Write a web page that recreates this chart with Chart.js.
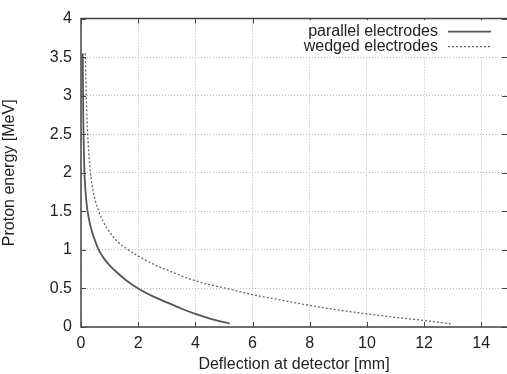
<!DOCTYPE html>
<html>
<head>
<meta charset="utf-8">
<script src="https://cdn.jsdelivr.net/npm/chart.js@4"></script>
<style>
  html, body { margin: 0; padding: 0; background: #fff; }
  #wrap { width: 507px; height: 374px; position: relative; }
</style>
</head>
<body>
<div id="wrap"><canvas id="chart"></canvas></div>
<script>
// parallel electrodes: deflection [mm] vs proton energy [MeV]
const parallelX = [0.06, 0.07, 0.08, 0.1, 0.12, 0.15, 0.19, 0.24, 0.3, 0.39, 0.5, 0.62, 0.8, 1.0, 1.25, 1.6, 2.0, 2.5, 3.0, 3.5, 4.0, 4.6, 5.2];
const parallelE = [3.55, 3.1, 2.7, 2.3, 2.0, 1.8, 1.62, 1.48, 1.36, 1.23, 1.11, 1.0, 0.89, 0.8, 0.71, 0.6, 0.5, 0.4, 0.32, 0.24, 0.17, 0.1, 0.045];

// wedged electrodes
const wedgedX = [0.15, 0.17, 0.2, 0.25, 0.33, 0.45, 0.62, 0.8, 1.0, 1.3, 1.66, 2.0, 2.5, 3.0, 4.0, 5.2, 6.0, 7.0, 8.0, 9.0, 10.0, 11.0, 12.0, 12.95];
const wedgedE = [3.55, 3.2, 2.8, 2.4, 2.0, 1.72, 1.5, 1.35, 1.23, 1.1, 1.0, 0.92, 0.82, 0.74, 0.6, 0.49, 0.42, 0.35, 0.28, 0.22, 0.17, 0.125, 0.085, 0.04];

const seriesLabels = ["parallel electrodes", "wedged electrodes"];
const xTicks = [0, 2, 4, 6, 8, 10, 12, 14];
const yTicks = [0, 0.5, 1, 1.5, 2, 2.5, 3, 3.5, 4];

const toPoints = (xs, ys) => xs.map((v, i) => ({ x: v, y: ys[i] }));
const FONT = "'Liberation Sans', Arial, sans-serif";

const framePlugin = {
  id: "frame",
  afterDatasetsDraw(chart) {
    const { ctx, chartArea: a, scales } = chart;
    const x = scales.x, y = scales.y;
    ctx.save();
    ctx.strokeStyle = "#444";
    ctx.lineWidth = 1.5;
    ctx.beginPath();
    ctx.moveTo(a.right, a.top);
    ctx.lineTo(a.left, a.top);
    ctx.lineTo(a.left, a.bottom);
    ctx.lineTo(a.right, a.bottom);
    ctx.stroke();

    // gnuplot style inward ticks
    ctx.lineWidth = 1;
    ctx.beginPath();
    xTicks.forEach(v => {
      const p = Math.round(x.getPixelForValue(v)) + 0.5;
      ctx.moveTo(p, a.bottom); ctx.lineTo(p, a.bottom - 5);
      ctx.moveTo(p, a.top); ctx.lineTo(p, a.top + 5);
    });
    yTicks.forEach(v => {
      const p = Math.round(y.getPixelForValue(v)) + 0.5;
      ctx.moveTo(a.left, p); ctx.lineTo(a.left + 5, p);
      ctx.moveTo(a.right, p); ctx.lineTo(a.right - 5, p);
    });
    ctx.stroke();

    // key, top right, samples to the right of the text
    ctx.fillStyle = "#fff";
    ctx.fillRect(298, a.top + 1.5, a.right - 298, 36);
    ctx.font = "16px " + FONT;
    ctx.textAlign = "right";
    ctx.textBaseline = "middle";
    chart.data.datasets.forEach((ds, i) => {
      const ly = a.top + 13 + i * 15;
      ctx.fillStyle = "#222";
      ctx.fillText(ds.label, 438, ly);
      ctx.strokeStyle = ds.borderColor;
      ctx.lineWidth = ds.borderWidth;
      ctx.setLineDash(ds.borderDash || []);
      ctx.beginPath();
      ctx.moveTo(448, ly);
      ctx.lineTo(491, ly);
      ctx.stroke();
    });
    ctx.restore();
  }
};

new Chart(document.getElementById("chart"), {
  type: "scatter",
  data: {
    datasets: [
      {
        label: seriesLabels[0],
        data: toPoints(parallelX, parallelE),
        showLine: true,
        borderColor: "#555",
        borderWidth: 1.8,
        pointRadius: 0,
        cubicInterpolationMode: "monotone",
      },
      {
        label: seriesLabels[1],
        data: toPoints(wedgedX, wedgedE),
        showLine: true,
        borderColor: "#666",
        borderWidth: 1.3,
        borderDash: [2, 2],
        pointRadius: 0,
        cubicInterpolationMode: "monotone",
      },
    ],
  },
  options: {
    responsive: true,
    maintainAspectRatio: false,
    animation: false,
    layout: { padding: { top: 15, right: 0, left: 0, bottom: 0 } },
    plugins: {
      legend: { display: false },
      tooltip: { enabled: false },
    },
    scales: {
      x: {
        type: "linear",
        min: 0,
        max: 14.9,
        afterBuildTicks: s => { s.ticks = xTicks.map(v => ({ value: v })); },
        afterFit: s => { s.height = 47; },
        border: { display: false, dash: [1, 2] },
        grid: { color: "#bbb", lineWidth: 1, drawTicks: false },
        ticks: {
          color: "#222",
          font: { family: FONT, size: 16 },
          padding: 7,
          maxRotation: 0,
          callback: v => String(v),
        },
        title: {
          display: true,
          text: "Deflection at detector [mm]",
          color: "#222",
          font: { family: FONT, size: 16 },
          padding: { top: 1, bottom: 0 },
        },
      },
      y: {
        type: "linear",
        min: 0,
        max: 4,
        afterBuildTicks: s => { s.ticks = yTicks.map(v => ({ value: v })); },
        afterFit: s => { s.width = 81; },
        border: { display: false, dash: [1, 2] },
        grid: { color: "#bbb", lineWidth: 1, drawTicks: false },
        ticks: {
          color: "#222",
          font: { family: FONT, size: 16 },
          padding: 9,
          callback: v => String(v),
        },
        title: {
          display: true,
          text: "Proton energy [MeV]",
          color: "#222",
          font: { family: FONT, size: 16 },
          padding: { top: 0, bottom: 2 },
        },
      },
    },
  },
  plugins: [framePlugin],
});
</script>
</body>
</html>
